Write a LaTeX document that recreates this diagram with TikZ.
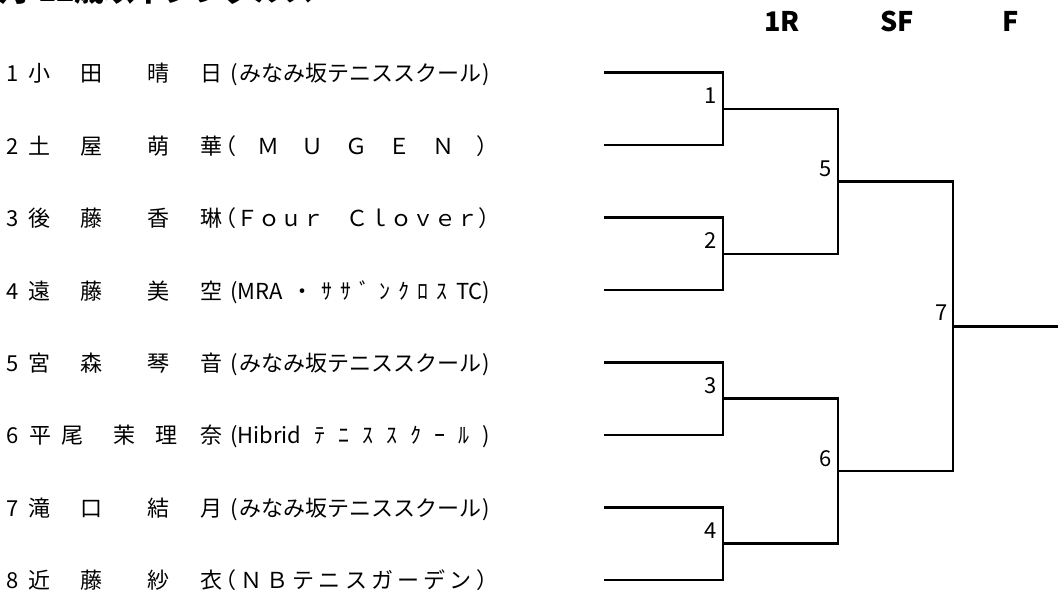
\documentclass[tikz,border=0pt]{standalone}
\usepackage{fontspec}
\newfontfamily\jp{Noto Sans CJK JP}
\begin{document}
\begin{tikzpicture}[x=1pt,y=-1pt,
  br/.style={line width=2.5pt, line join=miter},
  nm/.style={font=\jp\fontsize{22}{26}\selectfont, inner sep=0pt, anchor=base},
  tm/.style={font=\jp\fontsize{22}{26}\selectfont, inner sep=0pt, anchor=base west},
  lab/.style={font=\jp\fontsize{22}{26}\selectfont, inner sep=0pt, anchor=base east},
  hd/.style={font=\jp\bfseries\fontsize{27}{30}\selectfont, inner sep=0pt, anchor=base}]
\clip (0,0) rectangle (1058,599);
\fill[white] (0,0) rectangle (1058,599);
% title (cut off at the top)
\node[hd, anchor=base west, font=\jp\bfseries\fontsize{30}{32}\selectfont] (title) at (-22,1.5) {女子12歳以下シングルス};
% headers
\node[hd] (h1) at (782,32) {1R};
\node[hd] (h2) at (897,32) {SF};
\node[hd] (h3) at (1011,32) {F};
% player rows
\def\ya{72.7}\def\yb{145.15}\def\yc{217.6}\def\yd{290.05}
\def\ye{362.5}\def\yf{434.95}\def\yg{507.4}\def\yh{579.85}
\foreach \i/\yy/\a/\b/\c/\d in {1/\ya/小/田/晴/日, 2/\yb/土/屋/萌/華, 3/\yc/後/藤/香/琳, 4/\yd/遠/藤/美/空, 5/\ye/宮/森/琴/音, 7/\yg/滝/口/結/月, 8/\yh/近/藤/紗/衣}{
  \node[nm] (n\i) at (12.5,\yy+9) {\i};
  \node[nm] (s\i a) at (39.5,\yy+9) {\a};
  \node[nm] (s\i b) at (91,\yy+9) {\b};
  \node[nm] (g\i a) at (158,\yy+9) {\c};
  \node[nm] (g\i b) at (211.5,\yy+9) {\d};
}
\node[nm] (n6) at (12.5,\yf+9) {6};
\node[nm] (s6a) at (40,\yf+9) {平};
\node[nm] (s6b) at (72.5,\yf+9) {尾};
\node[nm] (g6a) at (124,\yf+9) {茉};
\node[nm] (g6b) at (166,\yf+9) {理};
\node[nm] (g6c) at (211,\yf+9) {奈};
% teams
\node[tm] (t1) at (230,\ya+9) {\makebox[260pt][s]{(\hfill みなみ坂テニススクール\hfill )}};
\node[tm] (t2) at (223,\yb+9) {\makebox[275pt][s]{\hspace*{-9pt}（\hfill Ｍ\hfill Ｕ\hfill Ｇ\hfill Ｅ\hfill Ｎ\hfill ）}};
\node[tm] (t3) at (223,\yc+9) {\makebox[275pt][s]{\hspace*{-9pt}（\hfill Ｆ\hfill ｏ\hfill ｕ\hfill ｒ\hfill 　\hfill Ｃ\hfill ｌ\hfill ｏ\hfill ｖ\hfill ｅ\hfill ｒ\hfill ）}};
\node[tm] (t4) at (230,\yd+9) {\makebox[260pt][s]{(MRA\hfill ・\hfill ｻ\hfill ｻ\hfill ﾞ\hfill ﾝ\hfill ｸ\hfill ﾛ\hfill ｽ\hfill TC)}};
\node[tm] (t5) at (230,\ye+9) {\makebox[260pt][s]{(\hfill みなみ坂テニススクール\hfill )}};
\node[tm] (t6) at (230,\yf+9) {\makebox[260pt][s]{(Hibrid\hfill ﾃ\hfill ﾆ\hfill ｽ\hfill ｽ\hfill ｸ\hfill ｰ\hfill ﾙ\hfill )}};
\node[tm] (t7) at (230,\yg+9) {\makebox[260pt][s]{(\hfill みなみ坂テニススクール\hfill )}};
\node[tm] (t8) at (223,\yh+9) {\makebox[275pt][s]{\hspace*{-9pt}（\hfill Ｎ\hfill Ｂ\hfill テ\hfill ニ\hfill ス\hfill ガ\hfill ー\hfill デ\hfill ン\hfill ）}};
% bracket coordinates
\coordinate (l1) at (604,\ya); \coordinate (l2) at (604,\yb);
\coordinate (l3) at (604,\yc); \coordinate (l4) at (604,\yd);
\coordinate (l5) at (604,\ye); \coordinate (l6) at (604,\yf);
\coordinate (l7) at (604,\yg); \coordinate (l8) at (604,\yh);
\coordinate (m1) at (723,{(\ya+\yb)/2}); \coordinate (m2) at (723,{(\yc+\yd)/2});
\coordinate (m3) at (723,{(\ye+\yf)/2}); \coordinate (m4) at (723,{(\yg+\yh)/2});
\coordinate (m5) at (838,{(\ya+\yb+\yc+\yd)/4});
\coordinate (m6) at (838,{(\ye+\yf+\yg+\yh)/4});
\coordinate (m7) at (953,{(\ya+\yb+\yc+\yd+\ye+\yf+\yg+\yh)/8});
\coordinate (win) at (1060,{(\ya+\yb+\yc+\yd+\ye+\yf+\yg+\yh)/8});
% brackets
\draw[br] (l1) -| (m1) |- (l2);
\draw[br] (l3) -| (m2) |- (l4);
\draw[br] (l5) -| (m3) |- (l6);
\draw[br] (l7) -| (m4) |- (l8);
\draw[br] (m1) -| (m5) |- (m2);
\draw[br] (m3) -| (m6) |- (m4);
\draw[br] (m5) -| (m7) |- (m6);
\draw[br] (m7) -- (win);
% match numbers
\node[lab] (k1) at ([xshift=-6pt,yshift=5pt]m1) {1};
\node[lab] (k2) at ([xshift=-6pt,yshift=5pt]m2) {2};
\node[lab] (k3) at ([xshift=-6pt,yshift=5pt]m3) {3};
\node[lab] (k4) at ([xshift=-6pt,yshift=5pt]m4) {4};
\node[lab] (k5) at ([xshift=-6pt,yshift=5pt]m5) {5};
\node[lab] (k6) at ([xshift=-6pt,yshift=5pt]m6) {6};
\node[lab] (k7) at ([xshift=-5pt,yshift=6pt]m7) {7};
\end{tikzpicture}
\end{document}
